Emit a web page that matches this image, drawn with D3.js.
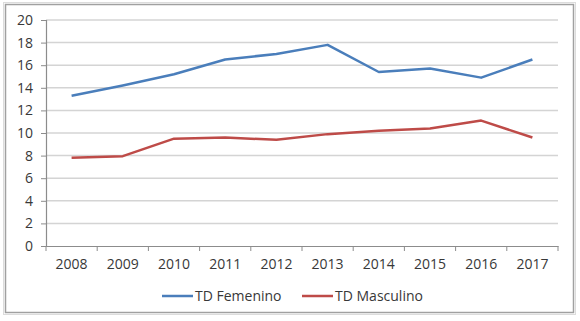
<!DOCTYPE html>
<html><head><meta charset="utf-8">
<script src="https://cdn.jsdelivr.net/npm/d3@7"></script>
<style>body{margin:0;background:#fff}svg{display:block}text{font-family:"Open Sans","Liberation Sans",sans-serif;fill:#383838}</style>
</head><body><svg id="c" width="580" height="321"></svg>
<script>
const years = ["2008","2009","2010","2011","2012","2013","2014","2015","2016","2017"];
const femenino = [13.3,14.2,15.2,16.5,17.0,17.8,15.4,15.7,14.9,16.5];
const masculino = [7.8,7.95,9.5,9.6,9.4,9.9,10.2,10.4,11.1,9.6];
const yTicks = [0,2,4,6,8,10,12,14,16,18,20];
const seriesNames = ["TD Femenino","TD Masculino"];
const colors = ["#4a7ebb","#be4b48"];

const svg = d3.select("#c");
// frame
svg.append("rect").attr("x",5.5).attr("y",4.5).attr("width",568).attr("height",308)
  .attr("fill","none").attr("stroke","#a0a0a0").attr("stroke-width",1.5);
svg.append("rect").attr("x",3.5).attr("y",2.5).attr("width",572).attr("height",312)
  .attr("fill","none").attr("stroke","#dcdcdc").attr("stroke-width",1);

const L=46, R=558, T=20, B=246;
const x = d3.scaleBand().domain(years).range([L,R]);
const y = d3.scaleLinear().domain([0,20]).range([B,T]);
const ff = "'Open Sans','Liberation Sans',sans-serif";

// gridlines
svg.append("g").selectAll("line").data(yTicks.filter(d=>d>0)).join("line")
  .attr("x1",L).attr("x2",R).attr("y1",d=>y(d)).attr("y2",d=>y(d))
  .attr("stroke","#d4d4d4").attr("stroke-width",1.5);

// y axis
const ya = svg.append("g").attr("transform",`translate(${L},0)`)
  .call(d3.axisLeft(y).tickValues(yTicks).tickSize(5).tickPadding(8).tickFormat(d3.format("d")));
ya.select(".domain").attr("stroke","#8c8c8c").attr("stroke-width",1.2);
ya.selectAll(".tick line").attr("stroke","#8c8c8c");
ya.selectAll("text").attr("font-size",14).style("font-family",ff).attr("fill","#383838");

// x axis
const xa = svg.append("g").attr("transform",`translate(0,${B})`)
  .call(d3.axisBottom(x).tickSize(0).tickPadding(13));
xa.select(".domain").attr("stroke","#8c8c8c").attr("stroke-width",1.2);
xa.selectAll("text").attr("font-size",14).style("font-family",ff).attr("fill","#383838");
svg.append("g").selectAll("line").data(years.concat(["end"])).join("line")
  .attr("x1",(d,i)=>L+i*x.step()).attr("x2",(d,i)=>L+i*x.step())
  .attr("y1",B).attr("y2",B+5).attr("stroke","#8c8c8c");

// lines
const line = d3.line().x((d,i)=>x(years[i])+x.bandwidth()/2).y(d=>y(d));
[femenino,masculino].forEach((s,k)=>{
  svg.append("path").datum(s).attr("d",line).attr("fill","none")
    .attr("stroke",colors[k]).attr("stroke-width",2.5).attr("stroke-linejoin","round");
});

// legend
const lx=[162,302];
seriesNames.forEach((n,k)=>{
  svg.append("line").attr("x1",lx[k]).attr("x2",lx[k]+31).attr("y1",296).attr("y2",296)
    .attr("stroke",colors[k]).attr("stroke-width",2.5);
  svg.append("text").attr("x",lx[k]+33).attr("y",301).attr("font-size",14).text(n);
});
</script></body></html>
